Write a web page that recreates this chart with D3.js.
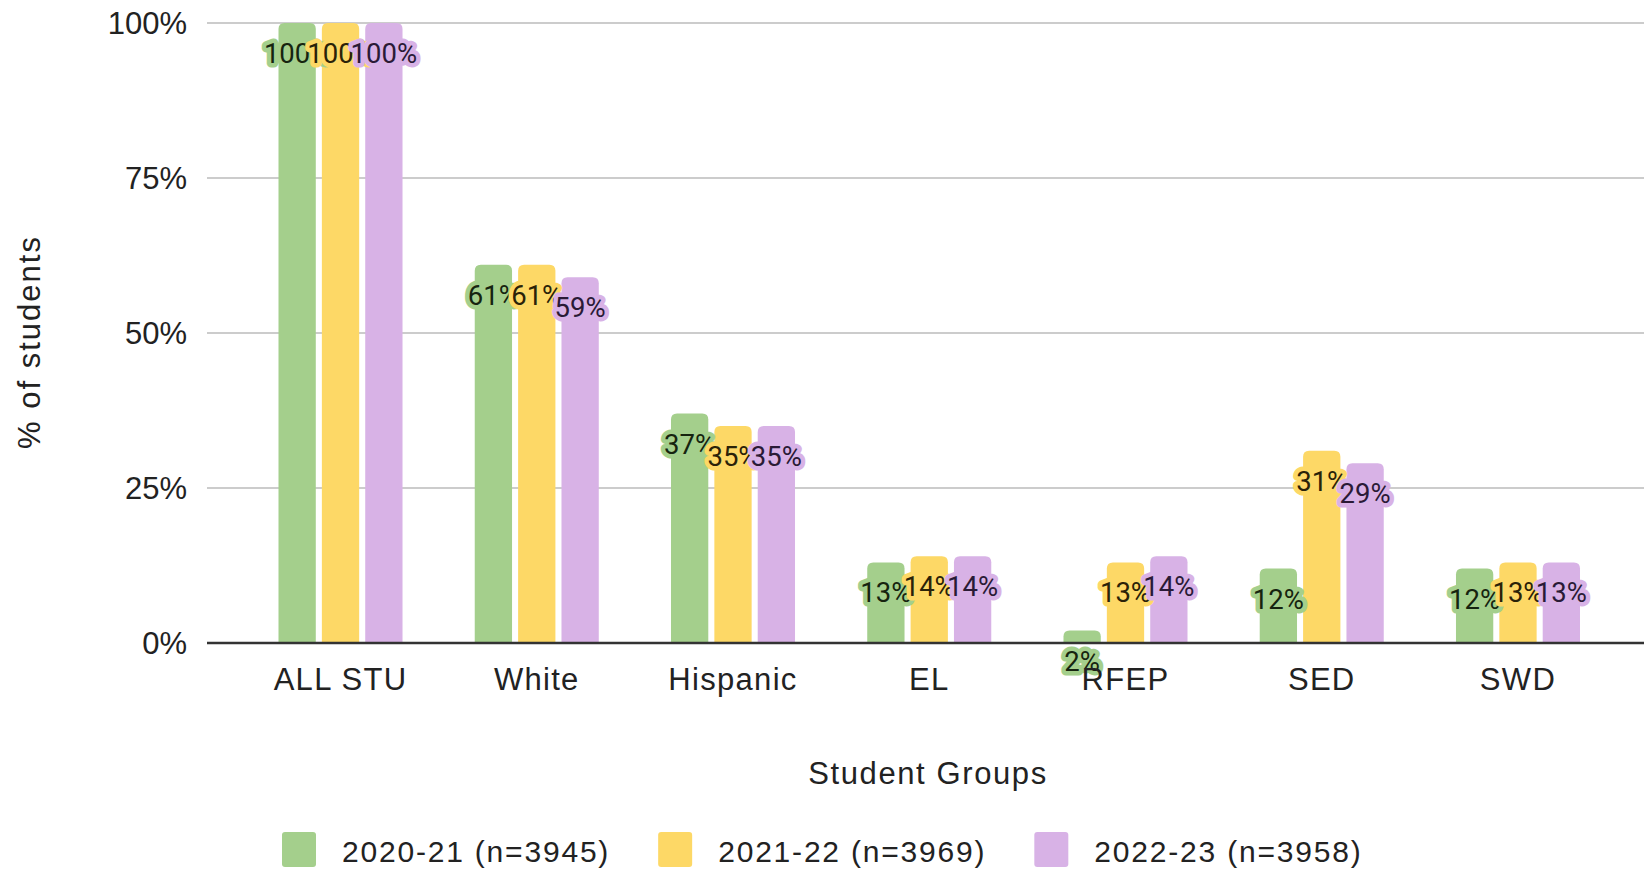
<!DOCTYPE html>
<html>
<head>
<meta charset="utf-8">
<script src="https://cdn.jsdelivr.net/npm/d3@7"></script>
<style>
  html, body { margin: 0; padding: 0; background: #fff; }
  svg { display: block; }
</style>
</head>
<body>
<svg id="chart" width="1644" height="869"></svg>
<script>
const categories = ["ALL STU", "White", "Hispanic", "EL", "RFEP", "SED", "SWD"];
const seriesNames = ["2020-21 (n=3945)", "2021-22 (n=3969)", "2022-23 (n=3958)"];
const values2020 = [100, 61, 37, 13, 2, 12, 12];
const values2021 = [100, 61, 35, 14, 13, 31, 13];
const values2022 = [100, 59, 35, 14, 14, 29, 13];
const yTicks = [0, 25, 50, 75, 100];
const colors = ["#a4cf8c", "#fdd866", "#d8b2e6"];
const labelColors = ["#16240f", "#2a2208", "#2a1a36"];

const seriesValues = [values2020, values2021, values2022];

const svg = d3.select("#chart");
const plotLeft = 207, plotRight = 1644, plotTop = 23, plotBottom = 643;

const y = d3.scaleLinear().domain([0, 100]).range([plotBottom, plotTop]);
const x0 = d3.scaleBand().domain(categories).range([278.5, 1580]).paddingInner(0.368).paddingOuter(0);
const x1 = d3.scaleBand().domain(d3.range(seriesNames.length)).range([0, x0.bandwidth()]).paddingInner(0.14);

// gridlines
svg.append("g").selectAll("line").data(yTicks.filter(d => d > 0)).join("line")
  .attr("x1", plotLeft).attr("x2", plotRight)
  .attr("y1", d => y(d)).attr("y2", d => y(d))
  .attr("stroke", "#cccccc").attr("stroke-width", 2);

// y tick labels
svg.append("g").selectAll("text").data(yTicks).join("text")
  .attr("x", 187).attr("y", d => y(d)).attr("dy", "0.36em")
  .attr("text-anchor", "end")
  .attr("font-family", "'Liberation Sans', Arial, sans-serif")
  .attr("font-size", 31).attr("fill", "#222")
  .text(d => d + "%");

// bars
function topRoundedRect(x, yTop, w, h, r) {
  r = Math.min(r, h / 2, w / 2);
  return `M${x},${yTop + h}V${yTop + r}Q${x},${yTop} ${x + r},${yTop}H${x + w - r}Q${x + w},${yTop} ${x + w},${yTop + r}V${yTop + h}Z`;
}

const groups = svg.append("g").selectAll("g").data(categories).join("g")
  .attr("transform", d => `translate(${x0(d)},0)`);

groups.each(function(cat, ci) {
  const g = d3.select(this);
  seriesValues.forEach((vals, si) => {
    const v = vals[ci];
    g.append("path")
      .attr("d", topRoundedRect(x1(si), y(v), x1.bandwidth(), y(0) - y(v), 6))
      .attr("fill", colors[si]);
  });
});

// baseline
svg.append("line").attr("x1", plotLeft).attr("x2", plotRight)
  .attr("y1", y(0)).attr("y2", y(0)).attr("stroke", "#333").attr("stroke-width", 2.5);

// data labels (drawn after bars, in series order so later ones overlap)
groups.each(function(cat, ci) {
  const g = d3.select(this);
  seriesValues.forEach((vals, si) => {
    const v = vals[ci];
    g.append("text")
      .attr("x", x1(si) + x1.bandwidth() / 2)
      .attr("y", y(v) + 40)
      .attr("text-anchor", "middle")
      .attr("font-family", "Roboto, sans-serif")
      .attr("font-size", 27.5)
      .attr("fill", labelColors[si])
      .attr("stroke", colors[si]).attr("stroke-width", 9)
      .attr("stroke-linejoin", "round")
      .attr("paint-order", "stroke")
      .text(v + "%");
  });
});

// category labels
svg.append("g").selectAll("text").data(categories).join("text")
  .attr("x", d => x0(d) + x0.bandwidth() / 2)
  .attr("y", 690)
  .attr("text-anchor", "middle")
  .attr("font-family", "'Liberation Sans', Arial, sans-serif")
  .attr("font-size", 31).attr("letter-spacing", 1.3).attr("fill", "#222")
  .text(d => d);

// axis titles
svg.append("text").attr("x", 928).attr("y", 784).attr("text-anchor", "middle")
  .attr("font-family", "'Liberation Sans', Arial, sans-serif")
  .attr("font-size", 31).attr("letter-spacing", 1.6).attr("fill", "#222")
  .text("Student Groups");

svg.append("text").attr("transform", "translate(40,342) rotate(-90)")
  .attr("text-anchor", "middle")
  .attr("font-family", "'Liberation Sans', Arial, sans-serif")
  .attr("font-size", 31).attr("letter-spacing", 2).attr("fill", "#222")
  .text("% of students");

// legend
const legend = svg.append("g");
let lx = 282;
seriesNames.forEach((name, si) => {
  legend.append("rect").attr("x", lx).attr("y", 832).attr("width", 34).attr("height", 35)
    .attr("rx", 3).attr("fill", colors[si]);
  const t = legend.append("text").attr("x", lx + 60).attr("y", 862)
    .attr("font-family", "'Liberation Sans', Arial, sans-serif")
    .attr("font-size", 30).attr("letter-spacing", 1.8).attr("fill", "#222")
    .text(name);
  const w = t.node().getComputedTextLength();
  lx = lx + 60 + w + 48;
});
</script>
</body>
</html>
